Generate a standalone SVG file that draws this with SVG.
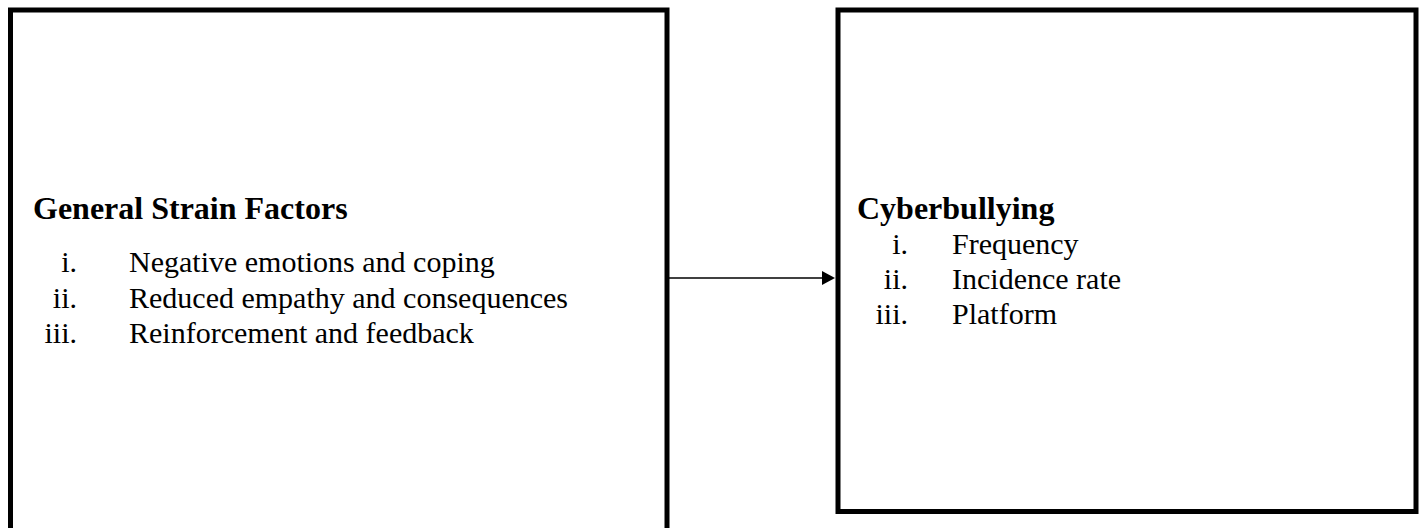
<svg xmlns="http://www.w3.org/2000/svg" width="1421" height="528" viewBox="0 0 1421 528">
<style>
.box{fill:#fff;stroke:#000;stroke-width:5}
.h{font-family:"Liberation Serif","Times New Roman",serif;font-weight:bold;font-size:32px;fill:#000}
.t{font-family:"Liberation Serif","Times New Roman",serif;font-size:30px;fill:#000}
.n{font-family:"Liberation Serif","Times New Roman",serif;font-size:30px;fill:#000;text-anchor:end}
</style>
<rect width="1421" height="528" fill="#fff"/>
<g id="connectors">
<line x1="669" y1="278" x2="824" y2="278" stroke="#000" stroke-width="1.5"/>
<polygon points="822,271 835,278 822,285" fill="#000"/>
</g>
<g id="strain">
<rect class="box" x="10.5" y="10" width="656.5" height="540"/>
<text class="h" x="33" y="219">General Strain Factors</text>
<text class="n" x="77" y="272">i.</text><text class="t" x="129" y="272">Negative emotions and coping</text>
<text class="n" x="77" y="307.5">ii.</text><text class="t" x="129" y="307.5">Reduced empathy and consequences</text>
<text class="n" x="77" y="343">iii.</text><text class="t" x="129" y="343">Reinforcement and feedback</text>
</g>
<g id="cyber">
<rect class="box" x="838" y="10" width="578" height="501.5"/>
<text class="h" x="857" y="219">Cyberbullying</text>
<text class="n" x="908" y="254">i.</text><text class="t" x="952" y="254">Frequency</text>
<text class="n" x="908" y="289">ii.</text><text class="t" x="952" y="289">Incidence rate</text>
<text class="n" x="908" y="324">iii.</text><text class="t" x="952" y="324">Platform</text>
</g>
</svg>
